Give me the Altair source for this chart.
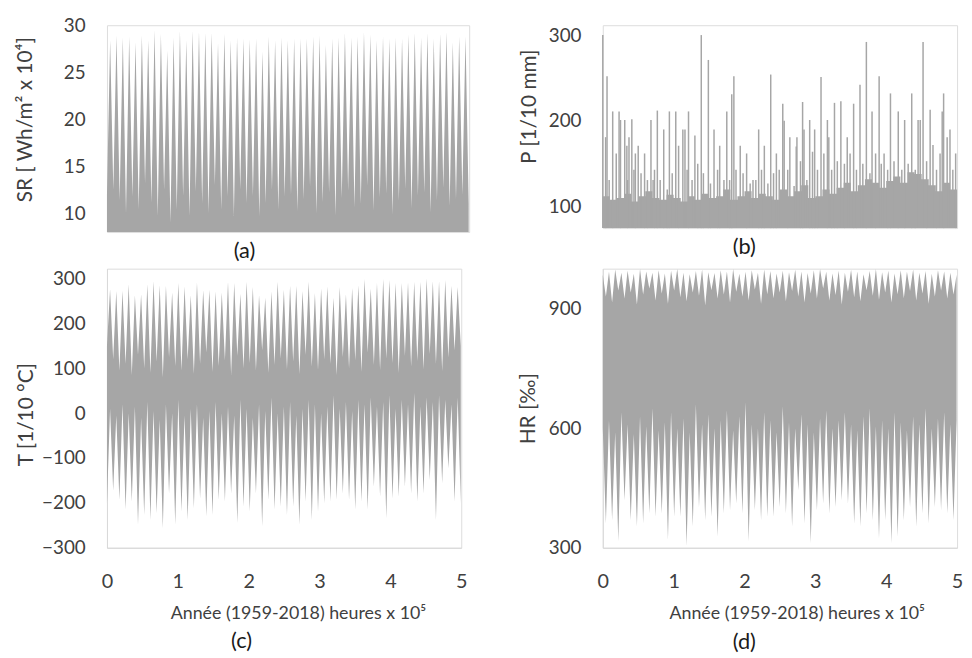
import altair as alt
import pandas as pd

YEAR = 0.0876  # one year (8760 h) in units of 1e5 h
GRAY = "#a6a6a6"
TXT = "#404040"
FONT = "Lato"

# ---------------- (a) solar radiation: yearly summer peak / winter envelope
sr_peak = [28.4, 28.9, 28.7, 28.8, 28.2, 28.9, 28.4, 29.5, 29.1, 27.3,
           28.7, 29.4, 28.4, 29.4, 29.3, 29.2, 29.2, 28.1, 29.1, 28.4,
           28.7, 28.6, 28.5, 28.6, 27.2, 28.8, 28.4, 28.7, 28.4, 28.6,
           28.6, 28.6, 28.8, 28.9, 27.9, 28.6, 28.7, 29.2, 28.7, 28.8,
           29.3, 29.0, 28.4, 28.8, 28.6, 28.7, 28.6, 29.0, 29.2, 28.7,
           29.2, 28.6, 29.1, 29.3, 28.2, 28.8, 28.8]
sr_winter = [12.0, 12.5, 11.4, 10.0, 11.8, 10.4, 13.2, 11.1, 9.7, 12.5,
             9.0, 10.4, 11.8, 9.7, 12.3, 11.1, 10.0, 13.0, 10.4, 11.8,
             9.7, 12.5, 11.1, 11.8, 9.7, 11.1, 12.5, 10.4, 11.8, 12.0,
             10.2, 11.5, 12.8, 10.0, 11.2, 12.2, 9.8, 11.6, 12.4, 10.6,
             11.0, 12.9, 10.3, 11.7, 12.1, 9.9, 11.3, 12.6, 10.5, 11.9,
             12.2, 10.1, 11.4, 12.7, 10.8, 11.5, 12.0, 11.0]

# ---------------- (b) precipitation: spikes and base level
p_spike_t = [0.00, 0.04, 0.06, 0.14, 0.19, 0.23, 0.25, 0.31, 0.34, 0.37,
             0.41, 0.46, 0.50, 0.59, 0.68, 0.71, 0.77, 0.86, 0.94, 1.03,
             1.07, 1.13, 1.16, 1.21, 1.30, 1.39, 1.49, 1.57, 1.65, 1.75,
             1.82, 1.85, 1.94, 2.03, 2.12, 2.20, 2.28, 2.37, 2.45, 2.54,
             2.56, 2.64, 2.73, 2.74, 2.82, 2.84, 2.92, 2.96, 2.99, 3.08,
             3.17, 3.19, 3.27, 3.36, 3.45, 3.54, 3.63, 3.72, 3.80, 3.90,
             3.97, 4.06, 4.17, 4.26, 4.36, 4.45, 4.48, 4.52, 4.62, 4.66,
             4.79, 4.81, 4.86, 4.90, 4.98]
p_spike_v = [300, 181, 252, 211, 162, 211, 201, 201, 171, 181,
             202, 162, 171, 162, 201, 131, 212, 190, 211, 211,
             171, 190, 190, 211, 183, 300, 271, 190, 171, 211,
             231, 252, 171, 162, 131, 190, 171, 254, 162, 220,
             200, 181, 170, 181, 222, 190, 201, 164, 190, 251,
             201, 181, 221, 223, 181, 220, 242, 292, 211, 252,
             162, 232, 211, 201, 232, 201, 201, 292, 213, 172,
             211, 232, 181, 190, 162]
p_med_t = [0.09, 0.35, 0.44, 0.54, 0.63, 0.73, 0.81, 0.91, 0.98,
           1.19, 1.26, 1.34, 1.42, 1.52, 1.62, 1.71, 1.79, 1.88, 1.98,
           2.08, 2.16, 2.24, 2.33, 2.41, 2.49, 2.61, 2.70, 2.79, 2.88,
           3.03, 3.12, 3.23, 3.31, 3.41, 3.49, 3.58, 3.67, 3.77, 3.85, 3.93,
           4.02, 4.11, 4.22, 4.31, 4.41, 4.57, 4.71, 4.76, 4.94]
p_med_v = [131, 131, 143, 139, 131, 143, 131, 120, 139,
           143, 131, 150, 139, 127, 143, 131, 131, 143, 139,
           127, 131, 143, 127, 139, 143, 143, 124, 153, 131,
           143, 162, 143, 153, 150, 162, 143, 150, 139, 162, 150,
           143, 153, 143, 150, 143, 153, 143, 162, 143]
p_base = [112, 108, 110, 115, 106, 112, 118, 110, 108, 114,
          110, 106, 112, 108, 115, 110, 112, 120, 108, 112,
          118, 110, 115, 112, 108, 120, 112, 118, 125, 110,
          112, 120, 115, 122, 128, 118, 125, 132, 128, 122,
          130, 135, 128, 140, 138, 132, 125, 118, 128, 120]
P_BIN = 0.1

# ---------------- (c) temperature: summer max / winter min per year
t_max = [276, 272, 273, 287, 263, 265, 287, 294, 285, 284,
         269, 290, 282, 263, 291, 274, 275, 271, 269, 293,
         290, 266, 293, 281, 263, 257, 271, 293, 275, 284,
         284, 272, 293, 268, 278, 282, 257, 281, 265, 279,
         285, 299, 278, 290, 299, 297, 290, 290, 291, 293,
         293, 300, 294, 294, 297, 284, 281]
t_summer_low = [10, -5, 20, 0, 15, -10, 25, 5, -15, 20,
                0, 30, -5, 10, 20, -10, 5, 25, 0, 15,
                -5, 30, 10, -10, 20, 5, 35, 0, 15, 25,
                -5, 10, 30, 20, 0, 15, 40, 10, 25, 5,
                30, 20, 35, 15, 25, 40, 10, 30, 20, 45,
                15, 35, 25, 40, 30, 20, 35]
t_min = [-201, -173, -193, -215, -197, -249, -227, -238, -223, -256,
         -179, -249, -219, -238, -212, -190, -230, -227, -193, -197,
         -179, -245, -208, -219, -179, -252, -193, -215, -208, -227,
         -208, -249, -197, -238, -219, -201, -197, -193, -179, -193,
         -215, -197, -215, -164, -186, -234, -190, -186, -164, -179,
         -197, -179, -149, -238, -156, -123, -197, -200]
t_winter_high = [150, 120, 95, 110, 85, 130, 100, 90, 115, 80,
                 125, 105, 95, 120, 88, 110, 135, 92, 105, 118,
                 85, 128, 100, 112, 95, 140, 90, 108, 122, 98,
                 115, 87, 130, 104, 96, 120, 110, 85, 125, 100,
                 118, 92, 135, 108, 96, 122, 112, 90, 128, 104,
                 116, 98, 132, 110, 94, 124, 140, 150]

# ---------------- (d) relative humidity: summer min / winter max per year
hr_min = [361, 369, 316, 419, 369, 353, 361, 386, 378, 386,
          320, 378, 378, 305, 353, 402, 369, 378, 328, 386,
          394, 411, 386, 316, 394, 369, 378, 378, 402, 386,
          353, 444, 361, 312, 394, 411, 386, 402, 419, 411,
          361, 353, 386, 369, 324, 369, 312, 328, 369, 402,
          353, 386, 361, 402, 394, 386, 369]
hr_summer_high = [930, 915, 945, 925, 940, 910, 935, 950, 920, 938,
                  912, 945, 928, 918, 940, 932, 908, 946, 925, 935,
                  915, 942, 930, 920, 948, 912, 936, 926, 940, 918,
                  944, 930, 915, 938, 925, 950, 920, 934, 910, 942,
                  928, 918, 946, 932, 922, 940, 915, 936, 926, 944,
                  920, 938, 912, 930, 945, 925, 935]
hr_max = [985, 992, 998, 990, 995, 987, 999, 993, 990, 996,
          988, 995, 999, 990, 986, 994, 998, 991, 989, 996,
          993, 999, 987, 992, 996, 990, 998, 994, 988, 995,
          991, 997, 993, 989, 996, 999, 992, 988, 995, 990,
          997, 993, 986, 994, 999, 991, 995, 988, 996, 992,
          998, 990, 994, 987, 996, 993, 990, 985]
hr_winter_low = [600, 620, 590, 640, 610, 585, 630, 605, 650, 595,
                 615, 640, 600, 625, 590, 660, 610, 635, 600, 620,
                 645, 595, 630, 665, 610, 600, 640, 620, 590, 655,
                 615, 600, 635, 610, 590, 625, 645, 600, 620, 640,
                 610, 595, 630, 650, 605, 620, 600, 640, 615, 595,
                 630, 610, 650, 600, 625, 640, 610, 620]

panel_labels = ["(a)", "(b)", "(c)", "(d)"]
x_ticks = [0, 1, 2, 3, 4, 5]
sr_ticks = [10, 15, 20, 25, 30]
p_ticks = [100, 200, 300]
t_ticks = [-300, -200, -100, 0, 100, 200, 300]
hr_ticks = [300, 600, 900]
x_title = "Année (1959-2018) heures x 10⁵"


def seasonal(winter_hi, winter_lo, summer_hi, summer_lo):
    rows = []
    for i in range(len(winter_hi)):
        rows.append({"t": i * YEAR, "hi": winter_hi[i], "lo": winter_lo[i]})
        if i < len(summer_hi):
            rows.append({"t": (i + 0.5) * YEAR, "hi": summer_hi[i], "lo": summer_lo[i]})
    return pd.DataFrame(rows)


df_sr = seasonal(sr_winter, sr_winter, sr_peak, sr_peak)
df_t = seasonal(t_winter_high, t_min, t_max, t_summer_low)
df_hr = seasonal(hr_max, hr_winter_low, hr_summer_high, hr_min)
df_pb = pd.DataFrame({"t": [i * P_BIN for i in range(len(p_base))] + [5.0],
                      "hi": p_base + [p_base[-1]]})
df_ps = pd.DataFrame({"t": p_spike_t + p_med_t, "v": p_spike_v + p_med_v})

xs = alt.Scale(domain=[0, 5], nice=False, zero=False)


def yaxis(ticks, title, tp, ty, domain=False):
    return alt.Axis(values=ticks, title=title, titlePadding=tp, titleY=ty,
                    minExtent=60, maxExtent=60, labelPadding=22,
                    domain=domain, domainColor="#d9d9d9", ticks=False, grid=False,
                    labelFontSize=19, labelColor=TXT, labelFont=FONT,
                    titleFontSize=21, titleFontWeight="normal", titleColor=TXT,
                    titleFont=FONT)


def xaxis(tx):
    return alt.Axis(values=x_ticks, title=x_title, format="d", labelFlush=False,
                    labelPadding=24, labelFontSize=20, labelColor=TXT, labelFont=FONT,
                    domain=True, domainColor="#d9d9d9", ticks=False, grid=False,
                    titleFontSize=18, titleFontWeight="normal", titleColor=TXT,
                    titleFont=FONT, titleX=tx, titleY=66, titleBaseline="middle")


def label(txt, px, py):
    return alt.Chart(pd.DataFrame({"lab": [txt]})).mark_text(
        font=FONT, fontSize=22, color="#1a1a1a").encode(
        text="lab:N", x=alt.value(px), y=alt.value(py))


# (a)
pa_area = alt.Chart(df_sr).mark_area(color=GRAY, opacity=1).encode(
    x=alt.X("t:Q", scale=xs, axis=None),
    y=alt.Y("hi:Q", scale=alt.Scale(domain=[8, 30], nice=False, zero=False),
            axis=yaxis(sr_ticks, "SR [ Wh/m² x  10⁴]", 12, 95)),
    y2=alt.datum(8))
pa = alt.layer(pa_area, label(panel_labels[0], 139, 228)).properties(width=366, height=209)

# (b)
p_scale = alt.Scale(domain=[75, 311.5], nice=False, zero=False)
pb_base = alt.Chart(df_pb).mark_area(color=GRAY, opacity=1, interpolate="step-after").encode(
    x=alt.X("t:Q", scale=xs, axis=None),
    y=alt.Y("hi:Q", scale=p_scale, axis=yaxis(p_ticks, "P [1/10 mm]", 4, 82)),
    y2=alt.datum(75))
pb_spk = alt.Chart(df_ps).mark_rule(color=GRAY, strokeWidth=1.5).encode(
    x=alt.X("t:Q", scale=xs, axis=None),
    y=alt.Y("v:Q", scale=p_scale),
    y2=alt.datum(75))
pb = alt.layer(pb_base, pb_spk, label(panel_labels[1], 143, 224)).properties(width=358, height=205)

# (c)
pc_area = alt.Chart(df_t).mark_area(color=GRAY, opacity=1).encode(
    x=alt.X("t:Q", scale=xs, axis=xaxis(193)),
    y=alt.Y("hi:Q", scale=alt.Scale(domain=[-300, 322], nice=False, zero=False),
            axis=yaxis(t_ticks, "T [1/10 °C]", 11, 147, domain=True)),
    y2="lo:Q")
pc = alt.layer(pc_area, label(panel_labels[2], 136, 376)).properties(width=358, height=282)

# (d)
pd_area = alt.Chart(df_hr).mark_area(color=GRAY, opacity=1).encode(
    x=alt.X("t:Q", scale=xs, axis=xaxis(196)),
    y=alt.Y("hi:Q", scale=alt.Scale(domain=[300, 1000], nice=False, zero=False),
            axis=yaxis(hr_ticks, "HR [‰]", 5, 141, domain=True)),
    y2="lo:Q")
pdd = alt.layer(pd_area, label(panel_labels[3], 143, 377)).properties(width=358, height=282)

chart = alt.concat(pa, pb, pc, pdd, columns=2, spacing={"row": 37, "column": 135},
                   bounds="flush").properties(
    padding={"left": 6, "top": 4, "right": 0, "bottom": 0}
).configure_view(stroke=None).configure(font=FONT)

chart.save("out.html", embed_options={"renderer": "svg", "actions": False})
